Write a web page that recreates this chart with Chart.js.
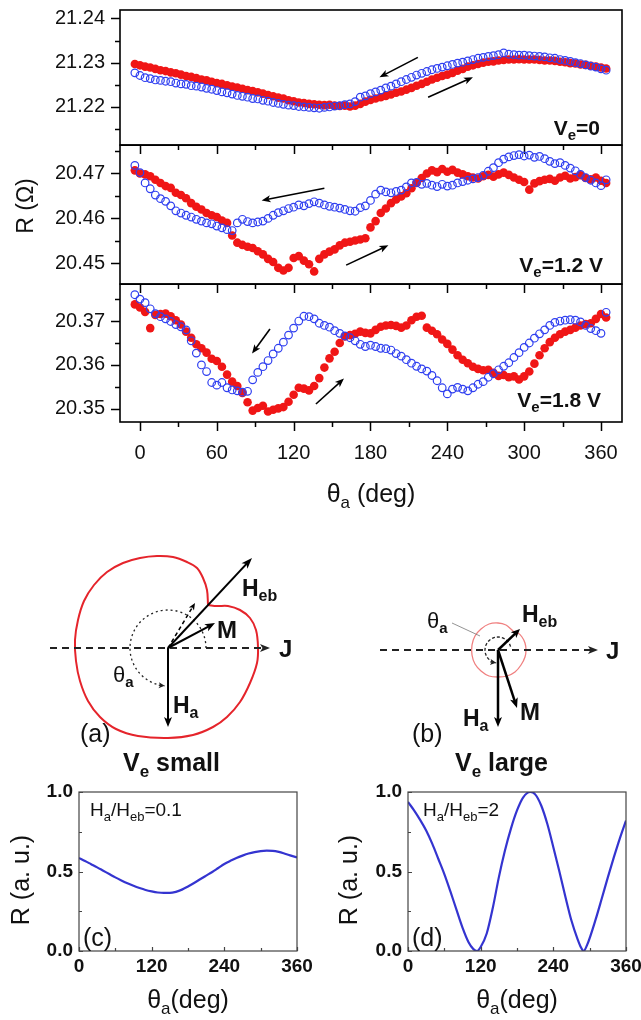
<!DOCTYPE html>
<html>
<head>
<meta charset="utf-8">
<script src="https://cdn.jsdelivr.net/npm/chart.js@4.4.1/dist/chart.umd.min.js"></script>
<style>
html,body{margin:0;padding:0;background:#fff;}
#wrap{position:relative;width:641px;height:1020px;overflow:hidden;background:#fff;}
canvas{position:absolute;}
</style>
</head>
<body>
<div id="wrap">
<canvas id="p1"></canvas>
<canvas id="p2"></canvas>
<canvas id="p3"></canvas>
<canvas id="cA"></canvas>
<canvas id="cB"></canvas>
<canvas id="cC"></canvas>
<canvas id="cD"></canvas>
</div>
<script>
// ---------------- DATA ----------------
const theta = [-4,0,4,8,12,16,20,24,28,32,36,40,44,48,52,56,60,64,68,72,76,80,84,88,92,96,100,104,108,112,116,120,124,128,132,136,140,144,148,152,156,160,164,168,172,176,180,184,188,192,196,200,204,208,212,216,220,224,228,232,236,240,244,248,252,256,260,264,268,272,276,280,284,288,292,296,300,304,308,312,316,320,324,328,332,336,340,344,348,352,356,360,364];

// Ve = 0 : increasing sweep (red) / decreasing sweep (blue)
const R_Ve0_inc = [21.2297,21.2294,21.2291,21.2289,21.2286,21.2283,21.2281,21.2278,21.2276,21.2273,21.2270,21.2268,
21.2265,21.2262,21.2260,21.2257,21.2254,21.2252,21.2249,21.2246,21.2244,21.2241,21.2238,21.2236,21.2233,21.2230,
21.2227,21.2224,21.2221,21.2219,21.2215,21.2213,21.2210,21.2209,21.2207,21.2206,21.2205,21.2204,21.2205,21.2203,
21.2202,21.2203,21.2201,21.2203,21.2207,21.2212,21.2216,21.2219,21.2222,21.2225,21.2228,21.2232,21.2235,21.2239,
21.2243,21.2248,21.2252,21.2257,21.2262,21.2266,21.2270,21.2273,21.2277,21.2282,21.2286,21.2291,21.2294,21.2297,
21.2300,21.2302,21.2303,21.2305,21.2306,21.2307,21.2307,21.2308,21.2307,21.2307,21.2307,21.2306,21.2305,21.2305,
21.2304,21.2302,21.2301,21.2299,21.2298,21.2296,21.2295,21.2293,21.2291,21.2289,21.2287];
const R_Ve0_dec = [21.2277,21.2271,21.2266,21.2264,21.2261,21.2260,21.2258,21.2257,21.2254,21.2252,21.2251,21.2248,
21.2247,21.2245,21.2242,21.2240,21.2237,21.2234,21.2232,21.2229,21.2226,21.2224,21.2222,21.2219,21.2218,21.2215,
21.2213,21.2210,21.2208,21.2206,21.2204,21.2203,21.2201,21.2200,21.2199,21.2198,21.2197,21.2199,21.2200,21.2202,
21.2203,21.2205,21.2207,21.2212,21.2222,21.2225,21.2230,21.2234,21.2238,21.2243,21.2247,21.2252,21.2257,21.2262,
21.2267,21.2272,21.2276,21.2280,21.2284,21.2287,21.2290,21.2293,21.2296,21.2299,21.2301,21.2304,21.2307,21.2310,
21.2312,21.2314,21.2316,21.2318,21.2322,21.2319,21.2318,21.2317,21.2317,21.2316,21.2315,21.2314,21.2313,21.2311,
21.2310,21.2307,21.2305,21.2303,21.2300,21.2298,21.2295,21.2292,21.2290,21.2286,21.2283];

// Ve = 1.2 V
const R_Ve12_inc = [20.4707,20.4700,20.4698,20.4694,20.4686,20.4679,20.4672,20.4668,20.4657,20.4652,20.4645,20.4634,
20.4626,20.4620,20.4612,20.4607,20.4603,20.4595,20.4590,20.4562,20.4546,20.4541,20.4537,20.4534,20.4527,20.4520,
20.4510,20.4503,20.4490,20.4484,20.4490,20.4512,20.4516,20.4506,20.4498,20.4482,20.4510,20.4520,20.4526,20.4531,
20.4540,20.4546,20.4548,20.4551,20.4553,20.4556,20.4580,20.4594,20.4612,20.4622,20.4634,20.4642,20.4649,20.4656,
20.4667,20.4679,20.4690,20.4700,20.4707,20.4703,20.4710,20.4704,20.4708,20.4702,20.4698,20.4694,20.4691,20.4689,
20.4694,20.4697,20.4693,20.4698,20.4702,20.4697,20.4691,20.4686,20.4681,20.4664,20.4678,20.4683,20.4686,20.4688,
20.4684,20.4691,20.4695,20.4689,20.4692,20.4696,20.4690,20.4687,20.4691,20.4684,20.4679];
const R_Ve12_dec = [20.4718,20.4702,20.4679,20.4666,20.4652,20.4644,20.4638,20.4628,20.4617,20.4612,20.4607,20.4603,
20.4598,20.4594,20.4590,20.4588,20.4583,20.4579,20.4575,20.4573,20.4590,20.4598,20.4593,20.4590,20.4592,20.4594,
20.4600,20.4607,20.4613,20.4617,20.4622,20.4625,20.4630,20.4628,20.4633,20.4637,20.4634,20.4630,20.4627,20.4625,
20.4623,20.4620,20.4617,20.4616,20.4624,20.4628,20.4640,20.4654,20.4663,20.4659,20.4657,20.4660,20.4663,20.4670,
20.4679,20.4680,20.4676,20.4678,20.4674,20.4671,20.4676,20.4672,20.4674,20.4679,20.4682,20.4685,20.4688,20.4691,
20.4696,20.4705,20.4713,20.4724,20.4732,20.4737,20.4740,20.4742,20.4739,20.4741,20.4736,20.4738,20.4733,20.4727,
20.4722,20.4724,20.4718,20.4712,20.4706,20.4698,20.4691,20.4685,20.4679,20.4673,20.4686];

// Ve = 1.8 V
const R_Ve18_inc = [20.3738,20.3731,20.3721,20.3684,20.3714,20.3716,20.3717,20.3711,20.3702,20.3692,20.3676,20.3662,
20.3647,20.3638,20.3628,20.3614,20.3609,20.3596,20.3578,20.3562,20.3552,20.3536,20.3515,20.3496,20.3502,20.3507,
20.3494,20.3498,20.3501,20.3504,20.3516,20.3532,20.3548,20.3546,20.3542,20.3552,20.3570,20.3594,20.3615,20.3630,
20.3650,20.3665,20.3668,20.3671,20.3676,20.3673,20.3672,20.3680,20.3687,20.3690,20.3691,20.3689,20.3685,20.3690,
20.3702,20.3710,20.3712,20.3685,20.3678,20.3670,20.3658,20.3648,20.3635,20.3622,20.3612,20.3604,20.3596,20.3591,
20.3588,20.3589,20.3582,20.3575,20.3577,20.3572,20.3574,20.3567,20.3574,20.3585,20.3603,20.3622,20.3638,20.3652,
20.3662,20.3670,20.3676,20.3680,20.3685,20.3690,20.3693,20.3695,20.3705,20.3716,20.3708];
const R_Ve18_dec = [20.3760,20.3750,20.3742,20.3728,20.3717,20.3710,20.3705,20.3699,20.3692,20.3687,20.3680,20.3655,
20.3627,20.3600,20.3585,20.3560,20.3554,20.3560,20.3548,20.3543,20.3541,20.3538,20.3540,20.3566,20.3583,20.3596,
20.3610,20.3625,20.3638,20.3652,20.3668,20.3684,20.3700,20.3711,20.3710,20.3705,20.3695,20.3690,20.3686,20.3678,
20.3672,20.3666,20.3662,20.3655,20.3647,20.3642,20.3645,20.3642,20.3638,20.3637,20.3634,20.3626,20.3620,20.3612,
20.3604,20.3597,20.3591,20.3586,20.3576,20.3564,20.3548,20.3534,20.3545,20.3549,20.3545,20.3541,20.3548,20.3556,
20.3562,20.3572,20.3580,20.3589,20.3597,20.3605,20.3617,20.3628,20.3640,20.3650,20.3661,20.3671,20.3680,20.3690,
20.3697,20.3700,20.3702,20.3703,20.3702,20.3698,20.3690,20.3683,20.3678,20.3672,20.3720];

const thetaTicks = [0,60,120,180,240,300,360];
const thetaMinor = [30,90,150,210,270,330];
const yTicks1 = [21.22,21.23,21.24], yMinor1 = [21.215,21.225,21.235];
const yTicks2 = [20.45,20.46,20.47], yMinor2 = [20.455,20.465,20.475];
const yTicks3 = [20.35,20.36,20.37], yMinor3 = [20.355,20.365,20.375];

// schematic curves (a) and (b) (units ~ px, origin at vector tail)
const curveA = [[40,43],[39,58],[35,70],[29,80],[19,86],[5,91],[-11,92],[-28,90],[-45,85],[-61,76],[-74,63],[-84,47],
[-90,28],[-93,8],[-92,-13],[-88,-33],[-80,-53],[-68,-69],[-52,-81],[-30,-88],[0,-90],[25,-87],[45,-79],[59,-69],
[72,-54],[82,-35],[89,-15],[90,1],[88,18],[82,30],[72,38],[60,42],[49,42],[40,43]];
const curveB = [[14,20],[8,25],[0,27],[-9,26],[-17,21],[-23,14],[-26,5],[-26,-5],[-23,-14],[-17,-21],[-9,-26],[0,-27],
[9,-26],[17,-22],[23,-15],[27,-7],[28,0],[27,7],[24,13],[20,17],[16,18],[14,20]];

// model curves (c) and (d)
const thetaC = [0,10,20,30,40,50,60,70,80,90,100,110,120,130,140,150,160,170,180,190,200,210,220,230,240,250,260,270,280,290,300,310,320,330,340,350,360];
const R_c = [0.585,0.566,0.546,0.526,0.505,0.484,0.463,0.444,0.426,0.41,0.396,0.384,0.375,0.368,0.365,0.365,0.372,0.386,0.406,0.428,0.451,0.474,0.497,0.522,0.547,0.567,0.585,0.600,0.613,0.622,0.628,0.631,0.630,0.623,0.612,0.600,0.588];
const thetaD = [0,10,20,30,40,50,60,70,80,90,100,108,114,120,130,140,150,160,170,180,190,202,210,220,230,240,250,260,270,280,286,290,296,310,320,330,340,350,360];
const R_d = [0.937,0.885,0.825,0.758,0.675,0.58,0.484,0.375,0.26,0.147,0.055,0.012,0.0,0.025,0.11,0.27,0.463,0.63,0.77,0.884,0.965,1.0,0.985,0.915,0.8,0.653,0.5,0.34,0.19,0.075,0.02,0.0,0.04,0.2,0.33,0.463,0.59,0.71,0.82];
const modelTicksX = [0,120,240,360], modelMinorX = [60,180,300];
const modelTicksY = [0,0.5,1], modelMinorY = [0.25,0.75];

// arrow annotations in data coordinates [theta, R]
const arrows1 = [[[217,21.2312],[187,21.2267]], [[225,21.2222],[260,21.2267]]];
const arrows2 = [[[144,20.4667],[95,20.4640]], [[161,20.4496],[194,20.4540]]];
const arrows3 = [[[101.5,20.3682],[87.5,20.3626]], [[137.4,20.3511],[159.3,20.3569]]];

[R_Ve0_inc,R_Ve0_dec,R_Ve12_inc,R_Ve12_dec,R_Ve18_inc,R_Ve18_dec].forEach((a,i)=>{ if(a.length!==theta.length) throw new Error('len '+i+' '+a.length); });
if (R_c.length!==thetaC.length || R_d.length!==thetaD.length) throw new Error('model len');

// ---------------- HELPERS ----------------
const FF = '"Liberation Sans", Arial, Helvetica, sans-serif';
const fnt = (s, b) => (b ? 'bold ' : '') + s + 'px ' + FF;
Chart.defaults.font.family = FF;
Chart.defaults.color = '#111';

function place(id, l, t, w, h) {
  const c = document.getElementById(id);
  c.width = w; c.height = h;
  c.style.left = l + 'px'; c.style.top = t + 'px';
  c.style.width = w + 'px'; c.style.height = h + 'px';
  return c;
}
function pts(xs, ys) { return xs.map((x, i) => ({x: x, y: ys[i]})); }

function rich(ctx, x, y, parts, align, color) {
  ctx.save();
  ctx.fillStyle = color || '#111';
  ctx.textAlign = 'left'; ctx.textBaseline = 'alphabetic';
  let w = 0;
  for (const p of parts) { ctx.font = p[1]; w += ctx.measureText(p[0]).width; }
  let cx = align === 'center' ? x - w / 2 : (align === 'right' ? x - w : x);
  for (const p of parts) { ctx.font = p[1]; ctx.fillText(p[0], cx, y + (p[2] || 0)); cx += ctx.measureText(p[0]).width; }
  ctx.restore();
}
function vtext(ctx, x, y, txt, font) {
  ctx.save();
  ctx.translate(x, y); ctx.rotate(-Math.PI / 2);
  ctx.font = font; ctx.fillStyle = '#111'; ctx.textAlign = 'center'; ctx.textBaseline = 'middle';
  ctx.fillText(txt, 0, 0);
  ctx.restore();
}
function arrow(ctx, x1, y1, x2, y2, o) {
  o = o || {};
  const lw = o.lw || 2, hl = o.hl || 10, hw = o.hw || 4;
  const ang = Math.atan2(y2 - y1, x2 - x1), c = Math.cos(ang), s = Math.sin(ang);
  ctx.save();
  ctx.strokeStyle = ctx.fillStyle = o.color || '#000';
  ctx.lineWidth = lw; ctx.lineCap = 'butt';
  if (o.dash) ctx.setLineDash(o.dash);
  ctx.beginPath(); ctx.moveTo(x1, y1); ctx.lineTo(x2 - c * hl * 0.7, y2 - s * hl * 0.7); ctx.stroke();
  ctx.setLineDash([]);
  ctx.beginPath(); ctx.moveTo(x2, y2);
  ctx.lineTo(x2 - c * hl + s * hw, y2 - s * hl - c * hw);
  ctx.lineTo(x2 - c * hl * 0.75, y2 - s * hl * 0.75);
  ctx.lineTo(x2 - c * hl - s * hw, y2 - s * hl + c * hw);
  ctx.closePath(); ctx.fill();
  ctx.restore();
}
function makeDecor(o) {
  return {
    id: 'decor',
    afterDraw(chart) {
      const ctx = chart.ctx, a = chart.chartArea, x = chart.scales.x, y = chart.scales.y;
      ctx.save();
      ctx.strokeStyle = o.color; ctx.lineWidth = o.lw;
      ctx.strokeRect(a.left, a.top, a.right - a.left, a.bottom - a.top);
      const d = o.out ? 1 : -1;
      ctx.lineWidth = o.tw;
      ctx.beginPath();
      const xt = (vals, len) => vals.forEach(v => { const p = Math.round(x.getPixelForValue(v)) + 0.5; ctx.moveTo(p, a.bottom); ctx.lineTo(p, a.bottom + d * len); });
      const yt = (vals, len) => vals.forEach(v => { const p = Math.round(y.getPixelForValue(v)) + 0.5; ctx.moveTo(a.left, p); ctx.lineTo(a.left - d * len, p); });
      xt(o.xMaj, o.maj); xt(o.xMin, o.min); yt(o.yMaj, o.maj); yt(o.yMin, o.min);
      ctx.stroke();
      ctx.restore();
    }
  };
}
function dataArrows(list) {
  return function (chart) {
    const x = chart.scales.x, y = chart.scales.y, ctx = chart.ctx;
    list.forEach(ar => arrow(ctx, x.getPixelForValue(ar[0][0]), y.getPixelForValue(ar[0][1]),
      x.getPixelForValue(ar[1][0]), y.getPixelForValue(ar[1][1]), {lw: 1.6, hl: 9, hw: 3.6}));
  };
}

// ---------------- TOP PANELS ----------------
const X_MIN = -15.6, X_MAX = 376.4, AREA_L = 120, AREA_R = 622, CW = 641;

function topPanel(id, top, h, areaT, areaB, yMin, yMax, yMaj, yMin2, red, blue, showX, extraDraw) {
  const cv = place(id, 0, top, CW, h);
  return new Chart(cv, {
    type: 'scatter',
    data: {datasets: [
      {data: pts(theta, blue), pointRadius: 3.8, pointBorderWidth: 1.2, pointBorderColor: '#2f3ff0', pointBackgroundColor: 'rgba(255,255,255,0)', showLine: false},
      {data: pts(theta, red), pointRadius: 4.3, pointBorderWidth: 0, pointBackgroundColor: '#f01616', pointBorderColor: '#f01616', showLine: false}
    ]},
    options: {
      responsive: false, devicePixelRatio: 1, animation: false,
      layout: {padding: {top: areaT - top, right: CW - AREA_R, left: 0, bottom: 0}},
      plugins: {legend: {display: false}, tooltip: {enabled: false}},
      scales: {
        x: {type: 'linear', min: X_MIN, max: X_MAX,
          grid: {display: false, drawTicks: false}, border: {display: false},
          afterBuildTicks: s => { s.ticks = thetaTicks.map(v => ({value: v})); },
          afterFit: s => { s.height = top + h - areaB; s.paddingLeft = 0; s.paddingRight = 0; },
          ticks: {display: showX, padding: 19, font: {size: 20}, color: '#111', maxRotation: 0, autoSkip: false}},
        y: {type: 'linear', min: yMin, max: yMax,
          grid: {display: false, drawTicks: false}, border: {display: false},
          afterBuildTicks: s => { s.ticks = yMaj.map(v => ({value: v})); },
          afterFit: s => { s.width = AREA_L; s.paddingTop = 0; s.paddingBottom = 0; },
          ticks: {padding: 15, font: {size: 20}, color: '#111', callback: v => Number(v).toFixed(2)}}
      }
    },
    plugins: [
      makeDecor({color: '#000', lw: 1.6, tw: 1.5, out: true, maj: 9, min: 5, xMaj: thetaTicks, xMin: thetaMinor, yMaj: yMaj, yMin: yMin2}),
      {id: 'notes', afterDraw: extraDraw}
    ]
  });
}

const veParts = (rest) => [['V', fnt(21, true)], ['e', fnt(15, true), 5], [rest, fnt(21, true)]];

const draw1 = dataArrows(arrows1), draw2 = dataArrows(arrows2), draw3 = dataArrows(arrows3);

topPanel('p1', 0, 160, 10, 145, 21.2114, 21.2419, yTicks1, yMinor1, R_Ve0_inc, R_Ve0_dec, false, function (chart) {
  draw1(chart);
  rich(chart.ctx, 600, 135, veParts('=0'), 'right');
});
topPanel('p2', 140, 160, 145, 284, 20.4454, 20.4763, yTicks2, yMinor2, R_Ve12_inc, R_Ve12_dec, false, function (chart) {
  draw2(chart);
  rich(chart.ctx, 603, 132, veParts('=1.2 V'), 'right');
  vtext(chart.ctx, 27, 66, 'R (\u03A9)', fnt(23));
});
topPanel('p3', 279, 241, 284, 422, 20.3470, 20.3784, yTicks3, yMinor3, R_Ve18_inc, R_Ve18_dec, true, function (chart) {
  draw3(chart);
  rich(chart.ctx, 601, 128, veParts('=1.8 V'), 'right');
  rich(chart.ctx, 371, 223, [['\u03B8', fnt(25)], ['a', fnt(17), 6], [' (deg)', fnt(25)]], 'center');
});

// ---------------- SCHEMATICS (a) and (b) ----------------
function schematic(id, l, t, w, h, xr, yr, curve, curveStyle, drawFn) {
  return new Chart(place(id, l, t, w, h), {
    type: 'scatter',
    data: {datasets: [{data: curve.map(p => ({x: p[0], y: p[1]})), showLine: true, pointRadius: 0,
      borderColor: curveStyle.color, borderWidth: curveStyle.width, tension: 0.35, fill: false}]},
    options: {responsive: false, devicePixelRatio: 1, animation: false, layout: {padding: 0},
      plugins: {legend: {display: false}, tooltip: {enabled: false}},
      scales: {x: {display: false, min: xr[0], max: xr[1]}, y: {display: false, min: yr[0], max: yr[1]}}},
    plugins: [{id: 'schem', afterDraw: drawFn}]
  });
}
function arcArrow(ctx, cx, cy, r, a0, a1, dash, lw) {
  ctx.save();
  ctx.strokeStyle = '#222'; ctx.fillStyle = '#222'; ctx.lineWidth = lw; ctx.setLineDash(dash);
  ctx.beginPath(); ctx.arc(cx, cy, r, -a0 * Math.PI / 180, -a1 * Math.PI / 180, true); ctx.stroke();
  ctx.restore();
  const e = -a1 * Math.PI / 180;
  const ex = cx + r * Math.cos(e), ey = cy + r * Math.sin(e);
  const tx = Math.sin(e), ty = -Math.cos(e);
  arrow(ctx, ex - tx * 6, ey - ty * 6, ex, ey, {lw: 1, hl: 6, hw: 3, color: '#222'});
}

schematic('cA', 30, 540, 290, 245, [-138, 152], [-137, 108], curveA, {color: '#e5242b', width: 2}, function (chart) {
  const ctx = chart.ctx, x = chart.scales.x, y = chart.scales.y;
  const P = (X, Y) => [x.getPixelForValue(X), y.getPixelForValue(Y)];
  const o = P(0, 0), u = x.getPixelForValue(1) - x.getPixelForValue(0);
  arcArrow(ctx, o[0], o[1], 38 * u, 0, 265, [2, 3], 1.3);
  let a = P(-118, 0), b = P(102, 0);
  arrow(ctx, a[0], a[1], b[0], b[1], {lw: 2, hl: 10, hw: 4, dash: [7, 5], color: '#222'});
  b = P(27, 45); arrow(ctx, o[0], o[1], b[0], b[1], {lw: 1.5, hl: 7, hw: 3, dash: [4, 3]});
  b = P(84, 90); arrow(ctx, o[0], o[1], b[0], b[1], {lw: 2, hl: 11, hw: 4});
  b = P(47, 25); arrow(ctx, o[0], o[1], b[0], b[1], {lw: 2, hl: 10, hw: 4});
  b = P(0, -79); arrow(ctx, o[0], o[1], b[0], b[1], {lw: 2, hl: 10, hw: 4});
  let q = P(111, -8.5); rich(ctx, q[0], q[1], [['J', fnt(24, true)]], 'left');
  q = P(74, 52); rich(ctx, q[0], q[1], [['H', fnt(23, true)], ['eb', fnt(16, true), 5]], 'left');
  q = P(49, 10); rich(ctx, q[0], q[1], [['M', fnt(24, true)]], 'left');
  q = P(-55, -34); rich(ctx, q[0], q[1], [['\u03B8', fnt(22)], ['a', fnt(15, true), 5]], 'left');
  q = P(5, -65); rich(ctx, q[0], q[1], [['H', fnt(23, true)], ['a', fnt(16, true), 5]], 'left');
  q = P(-88, -94); rich(ctx, q[0], q[1], [['(a)', fnt(25)]], 'left');
  q = P(-45, -123); rich(ctx, q[0], q[1], [['V', fnt(25, true)], ['e', fnt(17, true), 6], [' small', fnt(25, true)]], 'left');
});

schematic('cB', 370, 560, 271, 225, [-128, 143], [-135, 90], curveB, {color: '#f08080', width: 1.3}, function (chart) {
  const ctx = chart.ctx, x = chart.scales.x, y = chart.scales.y;
  const P = (X, Y) => [x.getPixelForValue(X), y.getPixelForValue(Y)];
  const o = P(0, 0), u = x.getPixelForValue(1) - x.getPixelForValue(0);
  arcArrow(ctx, o[0], o[1], 13 * u, 15, 262, [3, 2], 1.3);
  let a = P(-118, 0), b = P(100, 0);
  arrow(ctx, a[0], a[1], b[0], b[1], {lw: 2, hl: 10, hw: 4, dash: [7, 5], color: '#222'});
  a = P(-46, 27); b = P(-18, 14);
  ctx.save(); ctx.strokeStyle = '#777'; ctx.lineWidth = 0.8; ctx.beginPath(); ctx.moveTo(a[0], a[1]); ctx.lineTo(b[0], b[1]); ctx.stroke(); ctx.restore();
  b = P(22, 21); arrow(ctx, o[0], o[1], b[0], b[1], {lw: 2.5, hl: 9, hw: 4});
  b = P(19, -58); arrow(ctx, o[0], o[1], b[0], b[1], {lw: 2.5, hl: 10, hw: 4});
  b = P(0, -77); arrow(ctx, o[0], o[1], b[0], b[1], {lw: 2.5, hl: 10, hw: 4});
  let q = P(108, -8.5); rich(ctx, q[0], q[1], [['J', fnt(24, true)]], 'left');
  q = P(24, 28); rich(ctx, q[0], q[1], [['H', fnt(23, true)], ['eb', fnt(16, true), 5]], 'left');
  q = P(22, -70); rich(ctx, q[0], q[1], [['M', fnt(24, true)]], 'left');
  q = P(-71, 22); rich(ctx, q[0], q[1], [['\u03B8', fnt(22)], ['a', fnt(15, true), 5]], 'left');
  q = P(-35, -76); rich(ctx, q[0], q[1], [['H', fnt(23, true)], ['a', fnt(16, true), 5]], 'left');
  q = P(-86, -92); rich(ctx, q[0], q[1], [['(b)', fnt(25)]], 'left');
  q = P(-43, -121); rich(ctx, q[0], q[1], [['V', fnt(25, true)], ['e', fnt(17, true), 6], [' large', fnt(25, true)]], 'left');
});

// ---------------- MODEL PANELS (c) and (d) ----------------
function modelPanel(id, l, w, areaL, areaR, xs, ys, ratioRest, letter, titleX, ratioDX) {
  const top = 770, h = 250, areaT = 792, areaB = 951;
  return new Chart(place(id, l, top, w, h), {
    type: 'line',
    data: {datasets: [{data: pts(xs, ys), borderColor: '#3434d0', borderWidth: 2.2, pointRadius: 0,
      cubicInterpolationMode: 'monotone', fill: false}]},
    options: {
      responsive: false, devicePixelRatio: 1, animation: false,
      layout: {padding: {top: areaT - top, right: l + w - areaR, left: 0, bottom: 0}},
      plugins: {legend: {display: false}, tooltip: {enabled: false}},
      scales: {
        x: {type: 'linear', min: 0, max: 360, grid: {display: false, drawTicks: false}, border: {display: false},
          afterBuildTicks: s => { s.ticks = modelTicksX.map(v => ({value: v})); },
          afterFit: s => { s.height = top + h - areaB; s.paddingLeft = 0; s.paddingRight = 0; },
          ticks: {padding: 4, font: {size: 19, weight: 'bold'}, color: '#111', maxRotation: 0, autoSkip: false}},
        y: {type: 'linear', min: 0, max: 1, grid: {display: false, drawTicks: false}, border: {display: false},
          afterBuildTicks: s => { s.ticks = modelTicksY.map(v => ({value: v})); },
          afterFit: s => { s.width = areaL - l; s.paddingTop = 0; s.paddingBottom = 0; },
          ticks: {padding: 6, font: {size: 19, weight: 'bold'}, color: '#111', callback: v => Number(v).toFixed(1)}}
      }
    },
    plugins: [
      makeDecor({color: '#444', lw: 1.2, tw: 1.2, out: false, maj: 4, min: 3, xMaj: modelTicksX, xMin: modelMinorX, yMaj: modelTicksY, yMin: modelMinorY}),
      {id: 'notes', afterDraw(chart) {
        const ctx = chart.ctx, a = chart.chartArea;
        rich(ctx, a.left + ratioDX, a.top + 24, [['H', fnt(19)], ['a', fnt(13), 5], ['/H', fnt(19)], ['eb', fnt(13), 5], [ratioRest, fnt(19)]], 'left');
        rich(ctx, a.left + 4, a.bottom - 5, [[letter, fnt(25)]], 'left');
        vtext(ctx, titleX, 110, 'R (a. u.)', fnt(25));
        rich(ctx, (a.left + a.right) / 2, 238, [['\u03B8', fnt(25)], ['a', fnt(17), 6], ['(deg)', fnt(25)]], 'center');
      }}
    ]
  });
}
modelPanel('cC', 0, 320, 79, 297, thetaC, R_c, '=0.1', '(c)', 22, 11);
modelPanel('cD', 320, 321, 408, 626, thetaD, R_d, '=2', '(d)', 30, 15);
</script>
</body>
</html>
